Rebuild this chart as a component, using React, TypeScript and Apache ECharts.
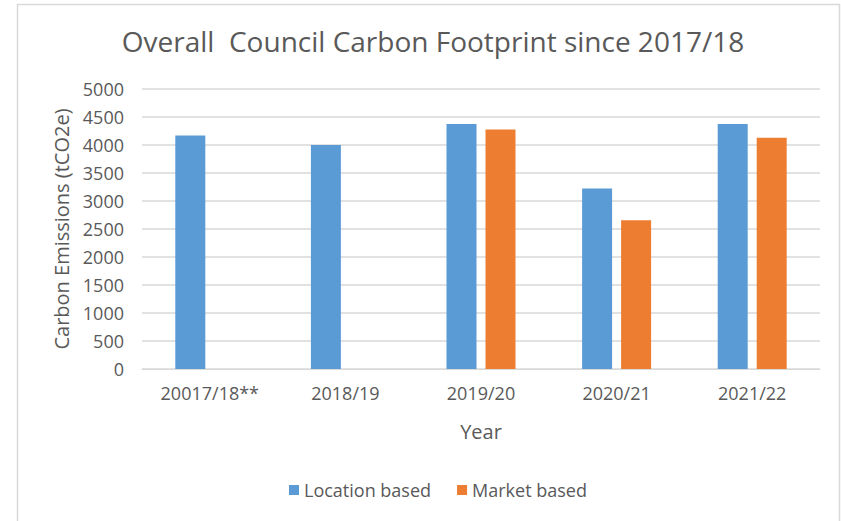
import React, { useEffect, useRef } from "react";
import * as echarts from "echarts";

const categories = ["20017/18**", "2018/19", "2019/20", "2020/21", "2021/22"];
const locationBased = [4170, 4000, 4375, 3225, 4375];
const marketBased: (number | null)[] = [null, null, 4275, 2655, 4130];
const yTicks = { min: 0, max: 5000, interval: 500 };

const FONT = "'Open Sans', 'Noto Sans', sans-serif";
const TEXT = "#595959";

export default function App() {
  const ref = useRef<HTMLDivElement>(null);
  useEffect(() => {
    if (!ref.current) return;
    const chart = echarts.init(ref.current, null, { renderer: "svg" });
    chart.setOption({
      animation: false,
      backgroundColor: "#ffffff",
      textStyle: { fontFamily: FONT, color: TEXT },
      graphic: [
        {
          type: "rect",
          shape: { x: 17.5, y: 4.5, width: 822, height: 540 },
          style: { fill: "none", stroke: "#d9d9d9", lineWidth: 1.5 },
          silent: true,
        },
      ],
      title: {
        text: "Overall  Council Carbon Footprint since 2017/18",
        left: 428,
        textAlign: "center",
        top: 22,
        textStyle: { fontFamily: FONT, fontSize: 28, fontWeight: "normal", color: TEXT },
      },
      legend: {
        bottom: 17,
        left: 284,
        itemWidth: 10,
        itemHeight: 10,
        itemGap: 26,
        icon: "rect",
        textStyle: { fontFamily: FONT, fontSize: 18, color: TEXT },
        data: ["Location based", "Market based"],
      },
      grid: { left: 142, right: 21, top: 89, bottom: 152, containLabel: false },
      xAxis: {
        type: "category",
        data: categories,
        name: "Year",
        nameLocation: "middle",
        nameGap: 52,
        nameTextStyle: { fontFamily: FONT, fontSize: 20, color: TEXT },
        axisLine: { show: true, lineStyle: { color: "#d9d9d9" } },
        axisTick: { show: false },
        axisLabel: { fontFamily: FONT, fontSize: 18, color: TEXT, margin: 15 },
      },
      yAxis: {
        type: "value",
        min: yTicks.min,
        max: yTicks.max,
        interval: yTicks.interval,
        name: "Carbon Emissions (tCO2e)",
        nameLocation: "middle",
        nameGap: 70,
        nameTextStyle: { fontFamily: FONT, fontSize: 20, color: TEXT },
        axisLine: { show: false },
        axisTick: { show: false },
        axisLabel: {
          fontFamily: FONT,
          fontSize: 18,
          color: TEXT,
          margin: 18,
          formatter: (v: number) => String(v),
        },
        splitLine: { lineStyle: { color: "#d9d9d9", width: 1.5 } },
      },
      series: [
        {
          name: "Location based",
          type: "bar",
          data: locationBased,
          barWidth: 30,
          barGap: "30%",
          itemStyle: { color: "#5B9BD5" },
        },
        {
          name: "Market based",
          type: "bar",
          data: marketBased,
          barWidth: 30,
          barGap: "30%",
          itemStyle: { color: "#ED7D31" },
        },
      ],
    });
    return () => chart.dispose();
  }, []);
  return <div ref={ref} style={{ width: 841, height: 521, position: "absolute", left: 0, top: 0 }} />;
}
